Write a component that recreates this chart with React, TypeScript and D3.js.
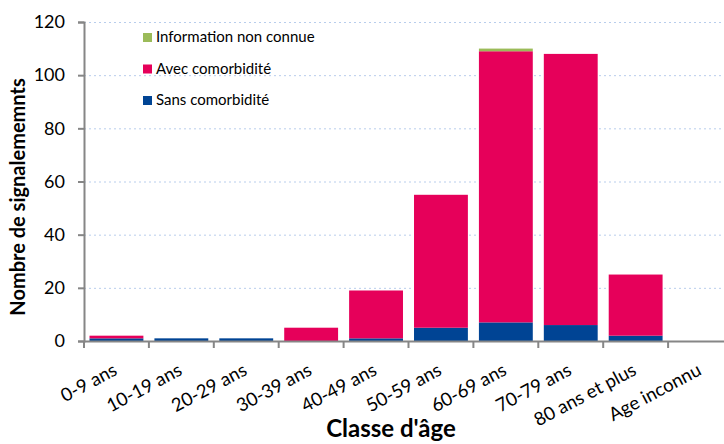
import React, { useEffect, useRef } from 'react';
import * as d3 from 'd3';

const categories = ['0-9 ans', '10-19 ans', '20-29 ans', '30-39 ans', '40-49 ans', '50-59 ans', '60-69 ans', '70-79 ans', '80 ans et plus', 'Age inconnu'];
const sansComorbidite = [1, 1, 1, 0, 1, 5, 7, 6, 2, 0];
const avecComorbidite = [1, 0, 0, 5, 18, 50, 102, 102, 23, 0];
const infoNonConnue = [0, 0, 0, 0, 0, 0, 1, 0, 0, 0];
const yTicks = [0, 20, 40, 60, 80, 100, 120];

const seriesKeys = ['sans', 'avec', 'info'];
const seriesLabels: Record<string, string> = {
    info: 'Information non connue',
    avec: 'Avec comorbidité',
    sans: 'Sans comorbidité',
};
const colors: Record<string, string> = {
    sans: '#004494',
    avec: '#e6005a',
    info: '#9bbb59',
};
const font = 'Lato, "Open Sans", sans-serif';

const App = () => {
    const ref = useRef<SVGSVGElement>(null);

    useEffect(() => {
        const width = 724;
        const height = 444;
        const margin = { left: 84, right: -9, top: 22, bottom: 103 };

        const svg = d3.select(ref.current);
        svg.selectAll('*').remove();

        const table = categories.map((c, i) => ({
            cat: c,
            sans: sansComorbidite[i],
            avec: avecComorbidite[i],
            info: infoNonConnue[i],
        }));

        const x = d3.scaleBand()
            .domain(categories)
            .range([margin.left, width - margin.right])
            .paddingInner(0.17)
            .paddingOuter(0.085);
        const y = d3.scaleLinear()
            .domain([0, 120])
            .range([height - margin.bottom, margin.top]);

        // grid
        svg.append('g')
            .selectAll('line')
            .data(yTicks.filter(t => t > 0))
            .enter()
            .append('line')
            .attr('x1', margin.left)
            .attr('x2', width)
            .attr('y1', d => y(d) + 0.5)
            .attr('y2', d => y(d) + 0.5)
            .attr('stroke', '#b8cdec')
            .attr('stroke-width', 1)
            .attr('stroke-dasharray', '2,3');

        const stack = d3.stack<any>().keys(seriesKeys)(table);

        svg.append('g')
            .selectAll('g')
            .data(stack)
            .enter()
            .append('g')
            .attr('fill', d => colors[d.key])
            .selectAll('rect')
            .data(d => d.filter(p => p[1] - p[0] > 0))
            .enter()
            .append('rect')
            .attr('x', d => x(d.data.cat)!)
            .attr('width', x.bandwidth())
            .attr('y', d => y(d[1]))
            .attr('height', d => y(d[0]) - y(d[1]));

        // y axis
        const yAxis = svg.append('g')
            .attr('transform', `translate(${margin.left},0)`)
            .call(d3.axisLeft(y).tickValues(yTicks).tickSize(6).tickPadding(13));
        yAxis.selectAll('line').attr('stroke', '#868686').attr('stroke-width', 2);
        yAxis.select('.domain').attr('stroke', '#868686').attr('stroke-width', 2);
        yAxis.selectAll('text')
            .attr('font-family', font)
            .attr('font-size', 18)
            .attr('fill', '#000');

        // x axis
        const xAxis = svg.append('g')
            .attr('transform', `translate(0,${y(0)})`)
            .call(d3.axisBottom(x).tickSize(0).tickFormat(() => ''));
        xAxis.select('.domain').attr('stroke', '#868686').attr('stroke-width', 2);

        const step = x.step();
        const tickPos = d3.range(categories.length + 1).map(i => margin.left + i * step);
        svg.append('g')
            .selectAll('line')
            .data(tickPos)
            .enter()
            .append('line')
            .attr('x1', d => d)
            .attr('x2', d => d)
            .attr('y1', y(0))
            .attr('y2', y(0) + 7)
            .attr('stroke', '#868686')
            .attr('stroke-width', 2);

        svg.append('g')
            .selectAll('text')
            .data(categories)
            .enter()
            .append('text')
            .attr('transform', d => `translate(${x(d)! + x.bandwidth() / 2 + 2},${y(0) + 33}) rotate(-28)`)
            .attr('text-anchor', 'end')
            .attr('font-family', font)
            .attr('font-size', 18.5)
            .attr('fill', '#000')
            .text(d => d);

        // axis titles
        svg.append('text')
            .attr('x', 391)
            .attr('y', 437)
            .attr('text-anchor', 'middle')
            .attr('font-family', font)
            .attr('font-weight', 'bold')
            .attr('font-size', 24)
            .text("Classe d'âge");

        svg.append('text')
            .attr('transform', `translate(25,197) rotate(-90)`)
            .attr('text-anchor', 'middle')
            .attr('font-family', font)
            .attr('font-weight', 'bold')
            .attr('font-size', 20)
            .text('Nombre de signalememnts');

        // legend
        const legendKeys = ['info', 'avec', 'sans'];
        const legend = svg.append('g')
            .selectAll('g')
            .data(legendKeys)
            .enter()
            .append('g')
            .attr('transform', (d, i) => `translate(143,${38 + i * 31.5})`);
        legend.append('rect')
            .attr('x', 0)
            .attr('y', -5)
            .attr('width', 9)
            .attr('height', 9)
            .attr('fill', d => colors[d]);
        legend.append('text')
            .attr('x', 13)
            .attr('y', 4)
            .attr('font-family', font)
            .attr('font-size', 15)
            .attr('fill', '#000')
            .text(d => seriesLabels[d]);
    }, []);

    return (
        <svg ref={ref} width={724} height={444} style={{ position: 'absolute', left: 0, top: 0, background: '#fff' }}></svg>
    );
};

export default App;
